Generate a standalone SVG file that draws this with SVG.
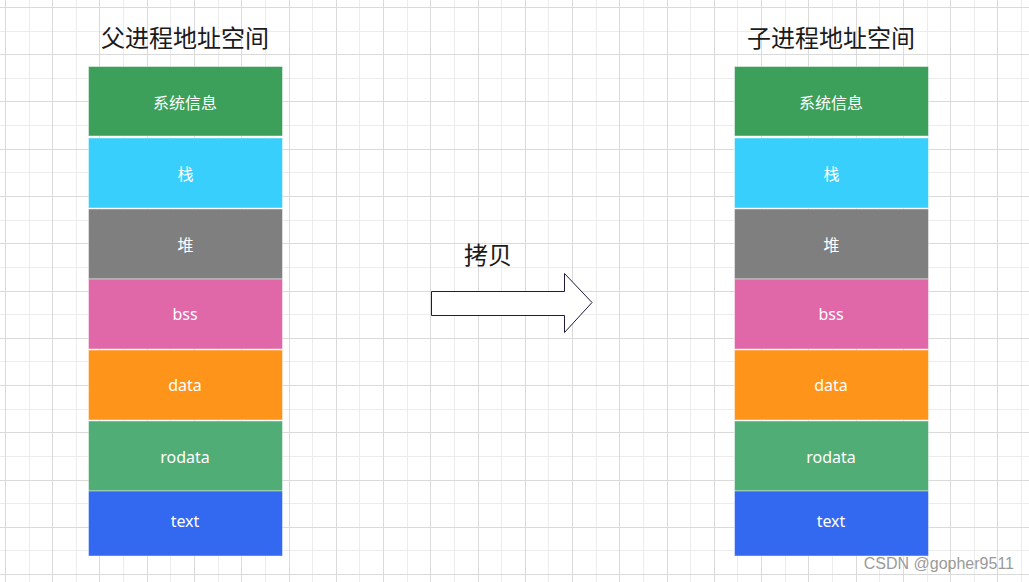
<svg xmlns="http://www.w3.org/2000/svg" width="1029" height="582" viewBox="0 0 1029 582">
<style>
.minor{stroke:#ececec;stroke-width:1;fill:none}
.major{stroke:#dadada;stroke-width:1;fill:none}
.blk{stroke:#ffffff;stroke-opacity:0.45;stroke-width:1}
.lbl{font-family:"Noto Sans","Noto Sans CJK SC",sans-serif;font-size:16px;fill:#ffffff;text-anchor:middle}
.title{font-family:"Noto Sans CJK SC",sans-serif;font-size:24px;fill:#1a1a1a;text-anchor:middle}
</style>
<rect width="1029" height="582" fill="#ffffff"/>
<g id="grid">
<path class="minor" d="M29.5 0V582M76.5 0V582M123.5 0V582M170.5 0V582M218.5 0V582M265.5 0V582M312.5 0V582M359.5 0V582M407.5 0V582M454.5 0V582M501.5 0V582M548.5 0V582M596.5 0V582M643.5 0V582M690.5 0V582M737.5 0V582M785.5 0V582M832.5 0V582M879.5 0V582M927.5 0V582M974.5 0V582M1021.5 0V582M0 31.5H1029M0 78.5H1029M0 125.5H1029M0 172.5H1029M0 220.5H1029M0 267.5H1029M0 314.5H1029M0 361.5H1029M0 409.5H1029M0 456.5H1029M0 503.5H1029M0 550.5H1029"/>
<path class="major" d="M5.5 0V582M52.5 0V582M99.5 0V582M147.5 0V582M194.5 0V582M241.5 0V582M289.5 0V582M336.5 0V582M383.5 0V582M430.5 0V582M478.5 0V582M525.5 0V582M572.5 0V582M619.5 0V582M667.5 0V582M714.5 0V582M761.5 0V582M808.5 0V582M856.5 0V582M903.5 0V582M950.5 0V582M997.5 0V582M0 7.5H1029M0 54.5H1029M0 101.5H1029M0 149.5H1029M0 196.5H1029M0 243.5H1029M0 291.5H1029M0 338.5H1029M0 385.5H1029M0 432.5H1029M0 480.5H1029M0 527.5H1029M0 574.5H1029"/>
</g>
<text id="title-parent" class="title" x="185" y="47">父进程地址空间</text>
<text id="title-child" class="title" x="831" y="47">子进程地址空间</text>
<g id="parent">
<g id="p-sys"><rect class="blk" x="88.5" y="66.5" width="194" height="69.5" fill="#3ca05a"/><text class="lbl" x="185" y="109">系统信息</text></g>
<g id="p-stack"><rect class="blk" x="88.5" y="138" width="194" height="70" fill="#39cffc"/><text class="lbl" x="185.5" y="180">栈</text></g>
<g id="p-heap"><rect class="blk" x="88.5" y="209" width="194" height="70" fill="#7f7f7f"/><text class="lbl" x="185.5" y="251">堆</text></g>
<g id="p-bss"><rect class="blk" x="88.5" y="279" width="194" height="70" fill="#e067a8"/><text class="lbl" x="185" y="320">bss</text></g>
<g id="p-data"><rect class="blk" x="88.5" y="350" width="194" height="70" fill="#ff941a"/><text class="lbl" x="185" y="391">data</text></g>
<g id="p-rodata"><rect class="blk" x="88.5" y="421" width="194" height="70" fill="#51ad76"/><text class="lbl" x="185" y="463">rodata</text></g>
<g id="p-text"><rect class="blk" x="88.5" y="491" width="194" height="65" fill="#3369f0"/><text class="lbl" x="185" y="527">text</text></g>
</g>
<g id="child">
<g id="c-sys"><rect class="blk" x="734.5" y="66.5" width="194" height="69.5" fill="#3ca05a"/><text class="lbl" x="831" y="109">系统信息</text></g>
<g id="c-stack"><rect class="blk" x="734.5" y="138" width="194" height="70" fill="#39cffc"/><text class="lbl" x="831.5" y="180">栈</text></g>
<g id="c-heap"><rect class="blk" x="734.5" y="209" width="194" height="70" fill="#7f7f7f"/><text class="lbl" x="831.5" y="251">堆</text></g>
<g id="c-bss"><rect class="blk" x="734.5" y="279" width="194" height="70" fill="#e067a8"/><text class="lbl" x="831" y="320">bss</text></g>
<g id="c-data"><rect class="blk" x="734.5" y="350" width="194" height="70" fill="#ff941a"/><text class="lbl" x="831" y="391">data</text></g>
<g id="c-rodata"><rect class="blk" x="734.5" y="421" width="194" height="70" fill="#51ad76"/><text class="lbl" x="831" y="463">rodata</text></g>
<g id="c-text"><rect class="blk" x="734.5" y="491" width="194" height="65" fill="#3369f0"/><text class="lbl" x="831" y="527">text</text></g>
</g>
<g id="connectors">
<path id="copy-arrow" d="M431.5 291.5H564.5V273.5L592 302.5L564.5 332.5V315.5H431.5Z" fill="#ffffff" stroke="#1c1c3c" stroke-width="1"/>
<text class="title" x="488" y="264">拷贝</text>
</g>
<text id="watermark" x="1014" y="569" font-family="Liberation Sans, sans-serif" font-size="16" fill="#9a9a9a" text-anchor="end">CSDN @gopher9511</text>
</svg>
